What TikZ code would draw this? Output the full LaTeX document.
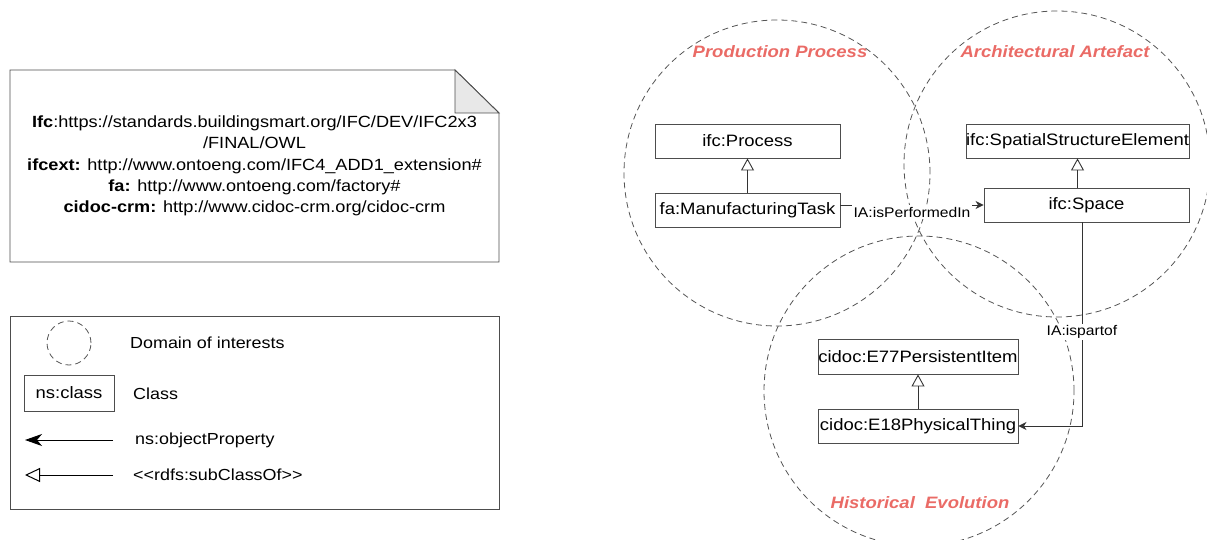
\documentclass[tikz,border=0pt]{standalone}
\usepackage{fontspec}
\setmainfont{Liberation Sans}[FakeStretch=1.12]
\usetikzlibrary{arrows.meta,calc}

\begin{document}
\begin{tikzpicture}[x=1pt,y=1pt, every node/.style={inner sep=0pt},
  cls/.style={draw=bc, fill=white, line width=0.9pt, minimum height=34pt, anchor=center, font=\fontsize{16.5}{19}\selectfont},
  dom/.style={draw=dc, line width=0.8pt, dash pattern=on 6pt off 4pt},
  domlbl/.style={text=rc, font=\bfseries\itshape\fontsize{16.5}{19}\selectfont, anchor=center},
  prop/.style={draw=ec, line width=0.9pt, -{Stealth[length=8pt,width=8pt,inset=2.5pt]}},
  subc/.style={draw=ec, line width=0.9pt, -{Triangle[open,length=12pt,width=13pt]}},
  elbl/.style={fill=white, inner sep=1.5pt, font=\fontsize{14}{16}\selectfont},
  leg/.style={anchor=west, font=\fontsize{16}{19}\selectfont}]
\definecolor{bc}{HTML}{4D4D4D}\definecolor{ec}{HTML}{333333}
\definecolor{dc}{HTML}{555555}\definecolor{rc}{HTML}{EA6B66}
\definecolor{fc}{HTML}{E8E8E8}
\useasboundingbox (0,0) rectangle (1207,539);
% namespace note
\draw[draw=bc, line width=0.9pt] (10,277) -- (10,469) -- (455,469) -- (499,426) -- (499,277) -- cycle;
\draw[draw=bc, fill=fc, line width=0.9pt] (455,469) -- (455,426) -- (499,426) -- cycle;
\node[align=center, font=\fontsize{16.2}{21.3}\selectfont, anchor=center] (note) at (254.5,373) {{\bfseries Ifc}:https://standards.buildingsmart.org/IFC/DEV/IFC2x3\\/FINAL/OWL\\{\bfseries ifcext:} http://www.ontoeng.com/IFC4\_ADD1\_extension\#\\{\bfseries fa:} http://www.ontoeng.com/factory\#\\{\bfseries cidoc-crm:} http://www.cidoc-crm.org/cidoc-crm};
% legend
\node[draw=bc, line width=0.9pt, minimum width=489pt, minimum height=193pt] (legend) at (254.5,126.5) {};
\node[dom, circle, minimum size=44pt] (legdom) at (69,196) {};
\node[leg] (legdomtxt) at (130,196) {Domain of interests};
\node[cls, minimum width=90pt, minimum height=36pt] (legcls) at (69,146) {ns:class};
\node[leg] (legclstxt) at (133,145) {Class};
\coordinate (pa) at (113,99); \coordinate (pb) at (25,99);
\draw[draw=black, line width=1pt, -{Stealth[length=17pt,width=12pt,inset=5pt]}] (pa) -- (pb);
\node[leg] (legproptxt) at (135,99) {ns:objectProperty};
\coordinate (sa) at (113,64); \coordinate (sb) at (25,64);
\draw[draw=black, line width=1pt, -{Triangle[open,length=15pt,width=14pt]}] (sa) -- (sb);
\node[leg] (legsubtxt) at (133,64) {<{}<rdfs:subClassOf>{}>};
% domains of interest
\node[dom, circle, minimum size=306pt] (ppdom) at (777,366) {};
\node[dom, circle, minimum size=306pt] (aadom) at (1057,375) {};
\node[dom, circle, minimum size=310pt] (hedom) at (919,148) {};
\node[domlbl] (pplbl) at (780,487) {Production Process};
\node[domlbl] (aalbl) at (1055,487) {Architectural Artefact};
\node[domlbl] (helbl) at (920,36) {Historical\ \ Evolution};
% classes
\node[cls, minimum width=185pt] (proc) at (747.5,398) {ifc:Process};
\node[cls, minimum width=185pt] (mtask) at (747.5,329) {fa:ManufacturingTask};
\node[cls, minimum width=223pt] (sse) at (1077.5,398) {ifc:SpatialStructureElement};
\node[cls, minimum width=205pt] (space) at (1086.5,334) {ifc:Space};
\node[cls, minimum width=200pt, minimum height=35pt] (e77) at (918,182.5) {cidoc:E77PersistentItem};
\node[cls, minimum width=200pt] (e18) at (918,113) {cidoc:E18PhysicalThing};
% subclass links
\draw[subc] (mtask) -- (proc);
\draw[subc] (space.north -| sse.south) -- (sse.south);
\draw[subc] (e18) -- (e77);
% object properties
\draw[prop] (mtask.east |- space.west) -- node[elbl, yshift=-7pt] {IA:isPerformedIn} (space.west);
\draw[prop] ([xshift=-4.5pt]space.south) |- node[elbl, pos=0.27] {IA:ispartof} (e18.east);
\end{tikzpicture}
\end{document}
